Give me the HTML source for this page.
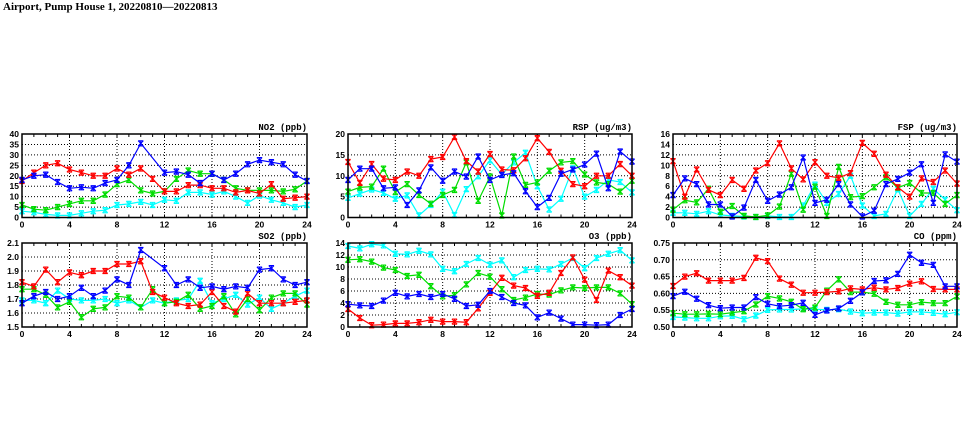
<!DOCTYPE html>
<html><head><meta charset="utf-8">
<style>
html,body{margin:0;padding:0;background:#fff;}
svg{display:block;font-family:"Liberation Sans",sans-serif;}
</style></head>
<body>
<svg id="chart" width="975" height="447" viewBox="0 0 975 447" xmlns="http://www.w3.org/2000/svg">
<text x="3" y="10" font-family="Liberation Serif, serif" font-weight="bold" font-size="11">Airport, Pump House 1, 20220810—20220813</text>
<g id="panels"></g>
</svg>
<script>
const hours = [0,1,2,3,4,5,6,7,8,9,10,11,12,13,14,15,16,17,18,19,20,21,22,23,24];
const xTicks = [0,4,8,12,16,20,24];
const panelTitles = ["NO2 (ppb)","RSP (ug/m3)","FSP (ug/m3)","SO2 (ppb)","O3 (ppb)","CO (ppm)"];
const yTicksNO2 = [0,5,10,15,20,25,30,35,40];
const yTicksRSP = [0,5,10,15,20];
const yTicksFSP = [0,2,4,6,8,10,12,14,16];
const yTicksSO2 = [1.5,1.6,1.7,1.8,1.9,2.0,2.1];
const yTicksO3 = [0,2,4,6,8,10,12,14];
const yTicksCO = [0.50,0.55,0.60,0.65,0.70,0.75];
const yLabelsSO2 = ["1.5","1.6","1.7","1.8","1.9","2.0","2.1"];
const yLabelsCO = ["0.50","0.55","0.60","0.65","0.70","0.75"];

const no2Red = [17.5,21.5,25,26,23,21.5,20,20,23.5,20.5,23.5,18.5,12.5,12.5,15.5,15.5,14,14,12,13,11.5,16,9,9.5,10];
const no2Green = [6,4,3.5,5,6.5,8,8,11,16,18,13,11.5,12.5,18.5,22.5,21,21,18,14,13,13,13,12.5,13.5,17.5];
const no2Blue = [18,20,20.5,17,14,14.5,14,16.5,18,25,35.5,null,21.5,22,20.5,16.5,21,18,21,25.5,27.5,26.5,25.5,20.5,17.5];
const no2Cyan = [3,2.5,1.5,1,1,2,3,3.5,6,6.5,7.5,6,8.5,8,12,12,11,12.5,10,7,10.5,8.5,7,5,6];

const rspRed = [13.3,8.3,12.8,9.3,9,11,10,14,14.5,19.3,13.5,11,15.2,11.5,11.3,14.2,19,15.7,11.2,8,7.5,10,10,12.8,10];
const rspGreen = [6.2,7.2,7.4,11.7,6.1,8,5.4,3.3,5.4,6.6,13.2,4,9.8,0.5,14.6,7.8,8.4,11.2,13.2,13.5,10.3,8.4,8,6.2,8.8];
const rspBlue = [9,11.7,11.7,7,7.2,3,6.5,12,8.8,11,9.8,14.6,9,10.2,10.6,6.3,2.5,4.7,10.5,11.5,12.7,15.3,7,15.8,13.4];
const rspCyan = [4.7,5.7,6.7,5.9,4.5,5.3,0.5,3,6.2,0.6,6.8,9.9,13.7,10.3,13.2,15.5,7.5,1.9,4.5,11.8,5,6.6,9,8.5,6];

const fspRed = [10.8,4,9.2,5.3,4.3,7.2,5.5,9,10.4,14.2,9.4,7.3,10.6,8,7.6,8.5,14.3,12.2,8.2,5.8,4,7.5,6.8,9,6.5];
const fspGreen = [1.5,3.3,2.9,5.5,1.1,2.2,0.3,0.1,0.4,2.1,8.4,1.5,5.9,0.3,9.7,3.9,4.1,5.8,7.7,5.7,6.6,4.7,4.7,2.6,4.3];
const fspBlue = [4.3,7.5,6.4,2.5,2.5,0.2,1.9,7.2,3.2,4.4,5.8,11.5,2.8,3.4,6.4,2.5,0.2,1.3,6.4,7.4,8.6,10.2,2.8,12.1,10.7];
const fspCyan = [0.9,0.9,0.7,1.2,0.5,0.3,0.2,0.1,0.3,0.1,0.1,2.3,6.3,2.8,4.5,8,2.3,0.3,0.7,5.4,0.3,2.6,5.5,3.4,1.4];

const so2Red = [1.82,1.79,1.91,1.82,1.89,1.87,1.90,1.90,1.95,1.95,1.97,1.75,1.71,1.67,1.65,1.66,1.75,1.65,1.61,1.74,1.67,1.67,1.67,1.68,1.69];
const so2Green = [1.77,1.77,1.73,1.64,1.68,1.57,1.63,1.64,1.72,1.71,1.64,1.77,1.67,1.68,1.73,1.63,1.65,1.72,1.59,1.70,1.62,1.71,1.74,1.74,1.66];
const so2Blue = [1.67,1.72,1.75,1.70,1.72,1.78,1.72,1.76,1.84,1.80,2.05,null,1.92,1.80,1.84,1.78,1.79,1.77,1.79,1.78,1.91,1.92,1.84,1.80,1.82];
const so2Cyan = [1.69,1.69,1.67,1.76,1.70,1.69,1.69,1.70,1.67,1.69,1.64,1.69,1.67,1.69,1.70,1.83,1.67,1.70,1.73,1.66,1.71,1.63,1.67,1.72,1.76];

const o3Red = [3,1.5,0.3,0.4,0.6,0.6,0.8,1.2,0.9,0.9,0.8,3.1,5.7,8.2,6.9,6.5,5.2,5.7,9,11.6,7.9,4.5,9.4,8.3,6.9];
const o3Green = [11.2,11.3,10.9,9.9,9.5,8.5,8.7,6.8,5.1,5.3,7.1,9,8.4,6.3,4.5,4.9,5.5,5.4,6.1,6.6,6.5,6.6,6.6,5.6,3.8];
const o3Blue = [3.8,3.6,3.5,4.4,5.7,5.1,5.5,5,5.5,4.7,3.5,3.7,6,5,4,3.6,1.6,2.4,1.4,0.4,0.4,0.3,0.4,2,3];
const o3Cyan = [13.5,13.1,13.8,13.6,12.2,12.1,12.7,12.1,9.7,9.3,10.5,11.5,10.4,11.1,8.3,9.5,9.7,9.6,10.5,11.5,9.8,11.5,12.2,12.8,11.1];

const coRed = [.622,.650,.660,.638,.638,.638,.646,.706,.696,.644,.626,.602,.602,.604,.606,.615,.612,.617,.612,.616,.629,.636,.613,.612,.612];
const coGreen = [.541,.538,.538,.539,.538,.543,.547,.567,.592,.585,.575,.553,.558,.608,.642,.604,.604,.599,.575,.566,.566,.574,.571,.571,.591];
const coBlue = [.592,.605,.584,.565,.556,.558,.558,.589,.569,.562,.565,.572,.536,.549,.555,.578,.603,.637,.639,.658,.715,.691,.685,.621,.621];
const coCyan = [.530,.528,.526,.526,.532,.533,.523,.534,.551,.552,.552,.554,.553,.551,.553,.546,.541,.543,.543,.540,.545,.545,.542,.538,.544];

const NS = "http://www.w3.org/2000/svg";
const root = document.getElementById("panels");
function mk(tag, attrs, parent){
  const e = document.createElementNS(NS, tag);
  for (const k in attrs) e.setAttribute(k, attrs[k]);
  (parent||root).appendChild(e);
  return e;
}
const colsX = [[22,307],[348,632],[673,957]];
const rowsY = [[134,217.5],[243,327]];
const colors = {red:"#ff0000", green:"#00dd00", blue:"#0000ff", cyan:"#00ffff"};

const panels = [
  {key:"no2", col:0,row:0, ticks:yTicksNO2, labels:null, series:[["cyan",no2Cyan],["green",no2Green],["red",no2Red],["blue",no2Blue]]},
  {key:"rsp", col:1,row:0, ticks:yTicksRSP, labels:null, series:[["cyan",rspCyan],["green",rspGreen],["red",rspRed],["blue",rspBlue]]},
  {key:"fsp", col:2,row:0, ticks:yTicksFSP, labels:null, series:[["cyan",fspCyan],["green",fspGreen],["red",fspRed],["blue",fspBlue]]},
  {key:"so2", col:0,row:1, ticks:yTicksSO2, labels:yLabelsSO2, series:[["cyan",so2Cyan],["green",so2Green],["red",so2Red],["blue",so2Blue]]},
  {key:"o3", col:1,row:1, ticks:yTicksO3, labels:null, series:[["cyan",o3Cyan],["green",o3Green],["red",o3Red],["blue",o3Blue]]},
  {key:"co", col:2,row:1, ticks:yTicksCO, labels:yLabelsCO, series:[["cyan",coCyan],["green",coGreen],["red",coRed],["blue",coBlue]]}
];

panels.forEach((p, pi) => {
  const [x0,x1] = colsX[p.col];
  const [y0,y1] = rowsY[p.row];
  const ymin = p.ticks[0], ymax = p.ticks[p.ticks.length-1];
  const xs = h => x0 + (x1-x0)*h/24;
  const ys = v => y1 - (y1-y0)*(v-ymin)/(ymax-ymin);
  const g = mk("g", {});
  
  
  p.ticks.forEach((t,i) => {
    if (i===0 || i===p.ticks.length-1) return;
    const l = mk("line",{x1:x0,x2:x1,y1:ys(t),y2:ys(t),stroke:"#000","stroke-width":1,"stroke-dasharray":"1,2"},g);
    
    
  });
  xTicks.forEach((t,i) => {
    if (i===0 || i===xTicks.length-1) return;
    const l = mk("line",{x1:xs(t),x2:xs(t),y1:y0,y2:y1,stroke:"#000","stroke-width":1,"stroke-dasharray":"1,2"},g);
    
    
  });
  hours.forEach(h => {
    mk("line",{x1:xs(h),x2:xs(h),y1:y1,y2:y1-3,stroke:"#000","stroke-width":1},g);
    mk("line",{x1:xs(h),x2:xs(h),y1:y0,y2:y0+3,stroke:"#000","stroke-width":1},g);
  });
  p.series.forEach(([cname, vals]) => {
    const sg = mk("g",{},g);
    
    
    let d = "";
    vals.forEach((v,i) => { if (v===null) return; d += (d?"L":"M") + xs(hours[i]).toFixed(1) + "," + ys(v).toFixed(1); });
    mk("path",{d:d,fill:"none",stroke:colors[cname],"stroke-width":1.2},sg);
    vals.forEach((v,i) => {
      if (v===null) return;
      const cx = xs(hours[i]), cy = ys(v), r = 2.6;
      const m = mk("path",{d:`M${cx-r},${cy-r}L${cx+r},${cy+r}M${cx-r},${cy+r}L${cx+r},${cy-r}M${cx},${cy-r}L${cx},${cy+r}M${cx-r},${cy-r}L${cx+r},${cy-r}M${cx-r},${cy+r}L${cx+r},${cy+r}`,stroke:colors[cname],"stroke-width":1.1,fill:"none"},sg);
      
      
    });
  });
  const fr = mk("rect",{x:x0,y:y0,width:x1-x0,height:y1-y0,fill:"none",stroke:"#000","stroke-width":1.5},g);
  
  
  p.ticks.forEach((t,i) => {
    const tx = mk("text",{x:x0-3,y:ys(t)+3,"text-anchor":"end","font-size":8.5,"font-weight":"bold"},g);
    tx.textContent = p.labels ? p.labels[i] : String(t);
    
    
  });
  xTicks.forEach(t => {
    const tx = mk("text",{x:xs(t),y:y1+10,"text-anchor":"middle","font-size":8.5,"font-weight":"bold"},g);
    tx.textContent = String(t);
    
    
  });
  const tt = mk("text",{x:x1,y:y0-4,"text-anchor":"end","font-size":9,"font-weight":"bold","font-family":"Liberation Mono, monospace"},g);
  tt.textContent = panelTitles[pi];
  
  
});
</script>
</body></html>
